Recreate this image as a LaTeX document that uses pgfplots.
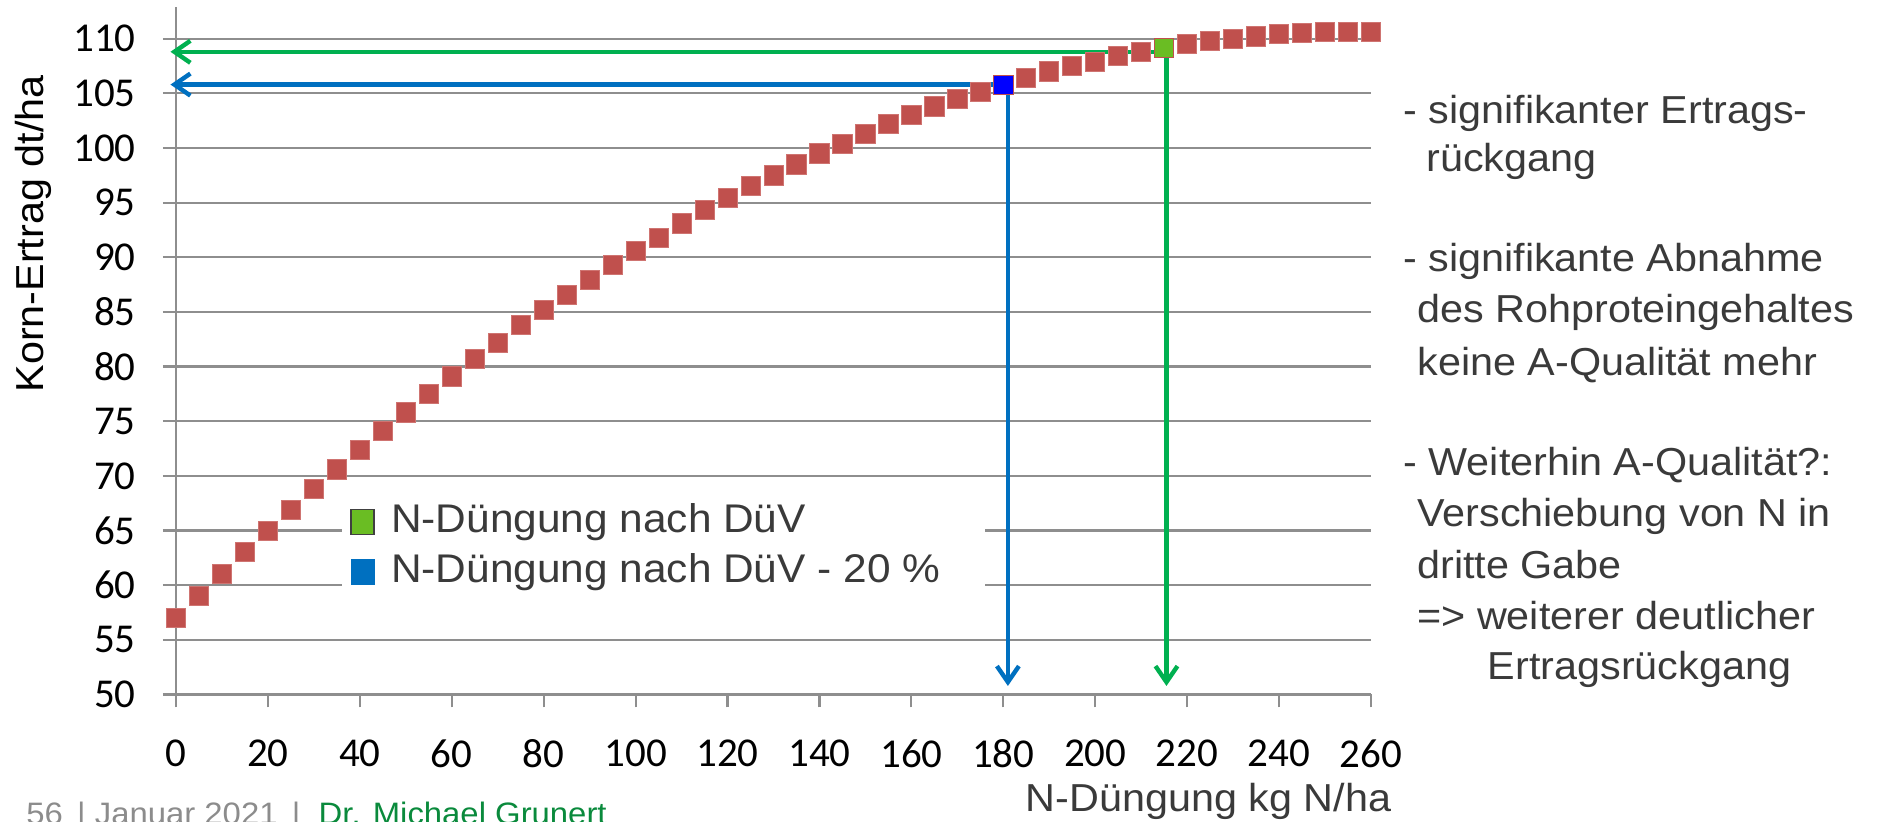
\documentclass[border=0pt]{standalone}
\usepackage{fontspec}
\setmainfont[FakeStretch=1.06]{Liberation Sans}
\newfontfamily\carlito{Carlito}
\usepackage{pgfplots}
\pgfplotsset{compat=1.18}
\usetikzlibrary{arrows.meta}
\definecolor{gridgray}{HTML}{8E8E8E}
\definecolor{redmk}{HTML}{C0504D}
\definecolor{redmkedge}{HTML}{CF7471}
\definecolor{arrowgreen}{HTML}{00B050}
\definecolor{arrowblue}{HTML}{0070C0}
\definecolor{greenmk}{HTML}{6ABD23}
\definecolor{bluemk}{HTML}{0000FF}
\definecolor{txtgray}{HTML}{3A3A3A}
\definecolor{footgray}{HTML}{8C8C8C}
\definecolor{footgreen}{HTML}{0A8A3C}

\pgfplotstableread{
x y
0 57.0
5 59.05
10 61.05
15 63.05
20 65.0
25 66.9
30 68.8
35 70.6
40 72.4
45 74.1
50 75.8
55 77.5
60 79.1
65 80.7
70 82.2
75 83.8
80 85.2
85 86.55
90 87.9
95 89.3
100 90.6
105 91.8
110 93.1
115 94.3
120 95.4
125 96.5
130 97.5
135 98.5
140 99.5
145 100.4
150 101.3
155 102.2
160 103.0
165 103.8
170 104.5
175 105.1
180 105.8
185 106.4
190 107.0
195 107.5
200 107.9
205 108.4
210 108.8
215 109.15
220 109.5
225 109.8
230 110.0
235 110.2
240 110.4
245 110.55
250 110.6
255 110.65
260 110.65
}\ertrag

\begin{document}
\begin{tikzpicture}
\useasboundingbox (0,0) rectangle (940pt,411pt);
\clip (0,0) rectangle (940pt,411pt);
\begin{axis}[
  at={(88pt,63.75pt)}, anchor=south west,
  scale only axis, width=597.5pt, height=343.75pt,
  xmin=0, xmax=260, ymin=50, ymax=112.9,
  xtick={0,20,...,260}, ytick={50,55,...,110},
  axis x line*=bottom, axis y line*=left,
  x axis line style={-}, y axis line style={-},
  axis line style={draw=gridgray, line width=1.1pt},
  ymajorgrids=true,
  major grid style={draw=gridgray, line width=1.1pt},
  tick style={draw=gridgray, line width=1.1pt},
  tick align=outside, major tick length=6.5pt,
  /pgf/number format/assume math mode=true,
  ticklabel style={font=\carlito\fontsize{20.5pt}{24pt}\selectfont, text=black},
  xticklabel style={anchor=north, inner sep=0pt, yshift=-15.8pt},
  yticklabel style={anchor=east, inner sep=0pt, xshift=-13.5pt},
  xlabel={N-Düngung kg N/ha},
  ylabel={Korn-Ertrag dt/ha},
  every axis x label/.style={at={(axis description cs:0.864,-0.1709)}, anchor=base, font=\fontsize{19.5pt}{23pt}\selectfont, text=txtgray},
  every axis y label/.style={at={(axis description cs:-0.1197,0.6698)}, rotate=90, anchor=center, font=\fontsize{19.5pt}{23pt}\selectfont, text=black},
  clip=false,
  legend style={at={(axis cs:36.1,68.7)}, anchor=north west, draw=none, fill=white,
    font=\fontsize{20pt}{24pt}\selectfont, text=txtgray,
    inner xsep=4pt, inner ysep=6pt, row sep=5pt, column sep=7pt,
    nodes={inner sep=1pt, text height=14pt, text depth=4pt}},
  legend cell align=left,
]
\addplot[only marks, mark=square*, mark size=4.8pt,
  mark options={fill=redmk, draw=redmkedge, line width=0.4pt}, forget plot]
  table[x=x, y=y] {\ertrag};
\addplot[draw=arrowgreen, line width=2.2pt, {Straight Barb[length=8pt, width=11pt]}-{Straight Barb[length=8pt, width=11pt]}, forget plot]
  coordinates {(-1.2,108.8) (215.5,108.8) (215.5,50.78)};
\addplot[draw=arrowblue, line width=2.2pt, {Straight Barb[length=8pt, width=11pt]}-{Straight Barb[length=8pt, width=11pt]}, forget plot]
  coordinates {(-1.2,105.8) (181,105.8) (181,50.78)};
\addplot[only marks, mark=square*, mark size=4.8pt,
  mark options={fill=greenmk, draw=redmk, line width=0.4pt},
  legend image code/.code={\draw[fill=greenmk, draw=black!75, line width=0.9pt] (0pt,-6pt) rectangle (11.5pt,6.5pt);}]
  coordinates {(215,109.15)};
\addlegendentry{N-Düngung nach DüV}
\addplot[only marks, mark=square*, mark size=4.8pt,
  mark options={fill=bluemk, draw=redmk, line width=0.4pt},
  legend image code/.code={\fill[arrowblue] (0pt,-6pt) rectangle (11.5pt,6.5pt);}]
  coordinates {(180,105.8)};
\addlegendentry{\makebox[292pt][l]{N-Düngung nach DüV - 20 \%}}
\end{axis}
\begin{scope}[font=\fontsize{19.5pt}{23pt}\selectfont, text=txtgray]
\node[anchor=base west, inner sep=0pt] at (701.5pt,349.3pt) {- signifikanter Ertrags-};
\node[anchor=base west, inner sep=0pt] at (713pt,325.1pt) {rückgang};
\node[anchor=base west, inner sep=0pt] at (701.5pt,275.3pt) {- signifikante Abnahme};
\node[anchor=base west, inner sep=0pt] at (708.5pt,249.6pt) {des Rohproteingehaltes};
\node[anchor=base west, inner sep=0pt] at (708.5pt,223.3pt) {keine A-Qualität mehr};
\node[anchor=base west, inner sep=0pt] at (701.5pt,173pt) {- Weiterhin A-Qualität?:};
\node[anchor=base west, inner sep=0pt] at (708.5pt,147.5pt) {Verschiebung von N in};
\node[anchor=base west, inner sep=0pt] at (708.5pt,121.5pt) {dritte Gabe};
\node[anchor=base west, inner sep=0pt] at (708.5pt,96pt) {=> weiterer deutlicher};
\node[anchor=base west, inner sep=0pt] at (743.7pt,71pt) {Ertragsrückgang};
\end{scope}
\node[anchor=base west, inner sep=0pt, font=\fontsize{15.5pt}{18pt}\selectfont] at (13pt,-1.5pt)
  {\textcolor{footgray}{56 \,| Januar 2021 \,| \ }\textcolor{footgreen}{Dr. Michael Grunert}};
\end{tikzpicture}
\end{document}
